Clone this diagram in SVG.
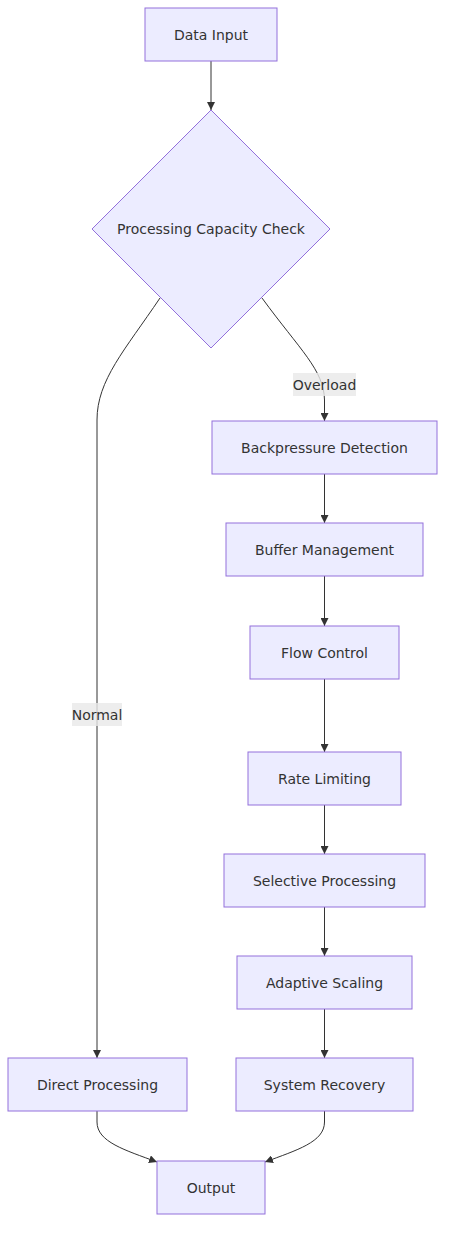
<svg xmlns="http://www.w3.org/2000/svg" width="453" height="1243" viewBox="0 0 453 1243">
<style>
.node rect,.node polygon{fill:#ECECFF;stroke:#9370DB;stroke-width:1}
text{font-family:"DejaVu Sans",Verdana,sans-serif;font-size:14px;fill:#333;text-anchor:middle;dominant-baseline:central}
.edge{fill:none;stroke:#333;stroke-width:1}
.lbl{fill:#e8e8e8;opacity:0.8}
</style>
<defs>
<marker id="arr" viewBox="0 0 10 10" refX="10" refY="5" markerWidth="8" markerHeight="8" markerUnits="userSpaceOnUse" orient="auto">
<path d="M0,0 L10,5 L0,10 z" fill="#333"/>
</marker>
</defs>
<g id="connectors">
<path class="edge" d="M211,61 L211,110" marker-end="url(#arr)"/>
<path class="edge" d="M262,298 C300,350 324,370 324.5,400 L324.5,421" marker-end="url(#arr)"/>
<path class="edge" d="M160,298 C125,350 97,380 97,420 L97,1058" marker-end="url(#arr)"/>
<path class="edge" d="M324.5,474 L324.5,523" marker-end="url(#arr)"/>
<path class="edge" d="M324.5,576 L324.5,626" marker-end="url(#arr)"/>
<path class="edge" d="M324.5,679 L324.5,752" marker-end="url(#arr)"/>
<path class="edge" d="M324.5,805 L324.5,854" marker-end="url(#arr)"/>
<path class="edge" d="M324.5,907 L324.5,956" marker-end="url(#arr)"/>
<path class="edge" d="M324.5,1009 L324.5,1058" marker-end="url(#arr)"/>
<path class="edge" d="M97,1111 L97,1122 C97,1142 125,1150 157,1162" marker-end="url(#arr)"/>
<path class="edge" d="M324.5,1111 L324.5,1122 C324.5,1142 297,1150 265,1162" marker-end="url(#arr)"/>
<rect class="lbl" x="293" y="373" width="63" height="23"/>
<text x="324.5" y="384.5">Overload</text>
<rect class="lbl" x="72" y="703" width="50" height="23"/>
<text x="97" y="714.5">Normal</text>
</g>
<g id="n1" class="node"><rect x="145" y="8" width="132" height="53"/><text x="211" y="34.5">Data Input</text></g>
<g id="n2" class="node"><polygon points="211,110 330,229 211,348 92,229"/><text x="211" y="229">Processing Capacity Check</text></g>
<g id="n3" class="node"><rect x="212" y="421" width="225" height="53"/><text x="324.5" y="447.5">Backpressure Detection</text></g>
<g id="n4" class="node"><rect x="226" y="523" width="197" height="53"/><text x="324.5" y="549.5">Buffer Management</text></g>
<g id="n5" class="node"><rect x="250" y="626" width="149" height="53"/><text x="324.5" y="652.5">Flow Control</text></g>
<g id="n6" class="node"><rect x="248" y="752" width="153" height="53"/><text x="324.5" y="778.5">Rate Limiting</text></g>
<g id="n7" class="node"><rect x="224" y="854" width="201" height="53"/><text x="324.5" y="880.5">Selective Processing</text></g>
<g id="n8" class="node"><rect x="237" y="956" width="175" height="53"/><text x="324.5" y="982.5">Adaptive Scaling</text></g>
<g id="n9" class="node"><rect x="236" y="1058" width="177" height="53"/><text x="324.5" y="1084.5">System Recovery</text></g>
<g id="n10" class="node"><rect x="8" y="1058" width="179" height="53"/><text x="97.5" y="1084.5">Direct Processing</text></g>
<g id="n11" class="node"><rect x="157" y="1161" width="108" height="53"/><text x="211" y="1187.5">Output</text></g>
</svg>
